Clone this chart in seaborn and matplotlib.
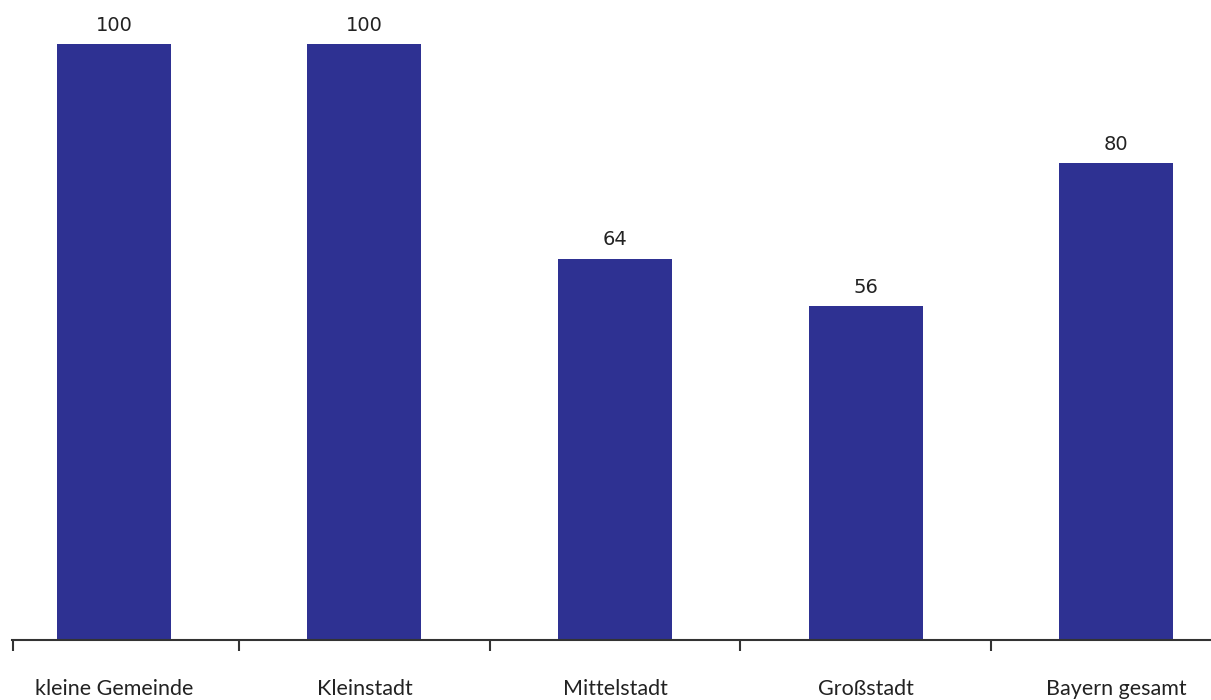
import matplotlib
matplotlib.use("Agg")
import matplotlib.pyplot as plt
import seaborn as sns
import pandas as pd

categories = ["kleine Gemeinde", "Kleinstadt", "Mittelstadt", "Großstadt", "Bayern gesamt"]
values = [100, 100, 64, 56, 80]

sns.set_theme(style="white")
plt.rcParams['font.family'] = ['DejaVu Sans']

df = pd.DataFrame({"cat": categories, "val": values})

W, H = 1211, 700
fig = plt.figure(figsize=(W / 100, H / 100), dpi=100)
ax = fig.add_axes([12 / W, 60 / H, (W - 12) / W, 640 / H])

sns.barplot(data=df, x="cat", y="val", color="#2E3192", saturation=1,
            width=0.455, linewidth=0, ax=ax)

ax.set_xlim(-0.407, 4.379)
ax.set_ylim(0, 107.4)

for i, v in enumerate(values):
    ax.text(i, v + 1.6, f"{v}", ha="center", va="bottom", fontsize=14,
            color="#222222", family="DejaVu Sans")

for s in ["top", "left", "right"]:
    ax.spines[s].set_visible(False)
ax.spines["bottom"].set_color("#333333")
ax.spines["bottom"].set_linewidth(1.5)

ax.set_yticks([])
ax.set_xlabel("")
ax.set_ylabel("")
ax.set_xticks(range(len(categories)))
ax.set_xticklabels(categories, fontsize=15.5, family="Lato", color="#222222")
ax.tick_params(axis="x", which="major", length=0, pad=28)
ax.set_xticks([-0.405, 0.5, 1.5, 2.5, 3.5], minor=True)
ax.tick_params(axis="x", which="minor", length=8, width=1.5, color="#333333",
               bottom=True, direction="out")

fig.savefig("out.png", dpi=100)
